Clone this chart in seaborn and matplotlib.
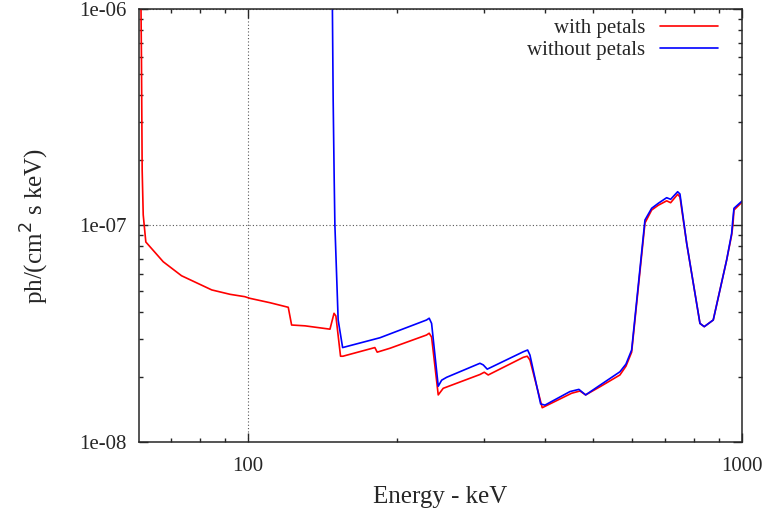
#!/usr/bin/env python3

import numpy as np
import pandas as pd
import seaborn as sns
from matplotlib import pyplot as plt
from matplotlib.ticker import FixedLocator, FixedFormatter, LogLocator, NullFormatter

sns.set_style("ticks")
plt.rcParams['font.family'] = ['Liberation Serif', 'DejaVu Serif']

# energy (keV) and flux (ph/(cm^2 s keV))
e_with = [60.6, 60.9, 61.1, 61.4, 62.15, 67.4, 73.4, 84.5, 92.0, 98.6, 100.9, 110.8,
          120.7, 122.6, 130.5, 146.6, 149.4, 150.7, 154.0, 155.7, 180.7, 182.7, 193.9,
          229.9, 232.8, 235.4, 242.8, 248.5, 294.9, 300.9, 306.5, 360.8, 367.6, 372.3,
          394.2, 452.2, 470.0, 482.6, 516.0, 566.2, 582.4, 598.0, 636.3, 656.5, 677.0,
          704.0, 717.2, 740.9, 749.0, 772.8, 822.2, 838.8, 874.7, 931.1, 953.1, 959.0,
          963.4, 1006.0]
f_with = [2.0e-6, 5.81e-7, 1.80e-7, 1.12e-7, 8.39e-8, 6.80e-8, 5.86e-8, 5.04e-8, 4.81e-8,
          4.69e-8, 4.61e-8, 4.40e-8, 4.19e-8, 3.47e-8, 3.44e-8, 3.32e-8, 3.93e-8, 3.82e-8,
          2.49e-8, 2.49e-8, 2.73e-8, 2.60e-8, 2.71e-8, 3.12e-8, 3.18e-8, 3.05e-8, 1.65e-8,
          1.77e-8, 2.05e-8, 2.10e-8, 2.04e-8, 2.46e-8, 2.49e-8, 2.39e-8, 1.44e-8, 1.68e-8,
          1.72e-8, 1.65e-8, 1.80e-8, 2.04e-8, 2.24e-8, 2.60e-8, 1.027e-7, 1.179e-7, 1.24e-7,
          1.30e-7, 1.274e-7, 1.393e-7, 1.354e-7, 8.28e-8, 3.53e-8, 3.41e-8, 3.66e-8, 6.93e-8,
          9.04e-8, 1.016e-7, 1.179e-7, 1.298e-7]

e_without = [147.9, 148.8, 149.5, 150.0, 152.3, 155.5, 185.0, 229.9, 232.8, 235.4, 242.8,
             246.7, 252.5, 294.9, 299.5, 305.1, 360.8, 368.3, 372.3, 391.3, 399.2, 448.6,
             467.7, 482.6, 516.0, 566.2, 582.4, 598.0, 636.3, 656.5, 677.0, 704.0, 717.2,
             740.9, 749.0, 772.8, 822.2, 838.8, 874.7, 931.1, 953.1, 957.4, 963.4, 1006.0]
f_without = [2.0e-6, 3.80e-7, 1.658e-7, 1.005e-7, 3.66e-8, 2.73e-8, 3.03e-8, 3.66e-8, 3.73e-8,
             3.53e-8, 1.81e-8, 1.93e-8, 1.99e-8, 2.31e-8, 2.27e-8, 2.17e-8, 2.61e-8, 2.66e-8,
             2.52e-8, 1.50e-8, 1.48e-8, 1.71e-8, 1.75e-8, 1.65e-8, 1.83e-8, 2.11e-8, 2.29e-8,
             2.66e-8, 1.06e-7, 1.201e-7, 1.266e-7, 1.344e-7, 1.321e-7, 1.432e-7, 1.398e-7,
             8.28e-8, 3.53e-8, 3.41e-8, 3.66e-8, 6.93e-8, 9.20e-8, 1.041e-7, 1.201e-7, 1.312e-7]

x_ticks = [100, 1000]
x_labels = ["100", "1000"]
y_ticks = [1e-8, 1e-7, 1e-6]
y_labels = ["1e-08", "1e-07", "1e-06"]

df = pd.concat([
    pd.DataFrame({"energy": e_with, "flux": f_with, "set": "with petals"}),
    pd.DataFrame({"energy": e_without, "flux": f_without, "set": "without petals"}),
])

f = plt.figure(figsize=(7.7, 5.16), dpi=100)
ax = f.add_axes([0.1805, 0.1434, 0.7831, 0.8392])

sns.lineplot(data=df, x="energy", y="flux", hue="set", palette=["#ff0000", "#0000ff"],
             estimator=None, sort=False, lw=1.2, ax=ax)

ax.set_xscale("log")
ax.set_yscale("log")
ax.set_xlim(60.2, 1000)
ax.set_ylim(1e-8, 1e-6)

ax.xaxis.set_major_locator(FixedLocator(x_ticks))
ax.xaxis.set_major_formatter(FixedFormatter(x_labels))
ax.yaxis.set_major_locator(FixedLocator(y_ticks))
ax.yaxis.set_major_formatter(FixedFormatter(y_labels))
ax.xaxis.set_minor_locator(LogLocator(subs=np.arange(2, 10)))
ax.yaxis.set_minor_locator(LogLocator(subs=np.arange(2, 10)))
ax.xaxis.set_minor_formatter(NullFormatter())
ax.yaxis.set_minor_formatter(NullFormatter())

ax.tick_params(which="both", direction="in", top=True, right=True, width=1, labelsize=15)
ax.tick_params(axis="x", which="major", length=6.5, pad=11)
ax.tick_params(axis="y", which="major", length=6.5, pad=9)
ax.tick_params(which="minor", length=3.2)
for s in ax.spines.values():
    s.set_linewidth(1.1)

ax.grid(which="major", color="#555555", linestyle=(0, (1, 2)), lw=0.8)

ax.set_xlabel("Energy - keV", fontsize=18, labelpad=7)
ax.set_ylabel("ph/(cm$^2$ s keV)", fontsize=18, labelpad=20)

ax.legend(loc="upper right", bbox_to_anchor=(0.9746, 0.997), frameon=False,
          markerfirst=False, fontsize=15, handlelength=2.8, labelspacing=0.1,
          borderaxespad=0, handletextpad=0.7)

f.savefig("out.png", dpi=100)
